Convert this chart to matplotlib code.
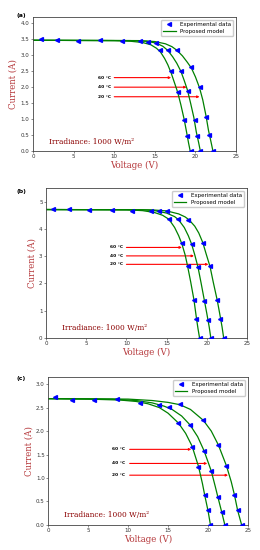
import matplotlib
matplotlib.use("Agg")
import matplotlib.pyplot as plt

# ---------------- Panel (a) ----------------
a_exp_v = [0.95, 2.9, 5.5, 8.2, 11.0, 13.2, 14.1, 15.2, 15.6, 16.6, 17.7, 17.0, 18.2, 19.5,
           17.9, 19.1, 20.5, 18.6, 19.9, 21.3, 19.0, 20.2, 21.7, 19.4, 20.6, 22.1]
a_exp_i = [3.51, 3.48, 3.46, 3.48, 3.45, 3.45, 3.43, 3.39, 3.15, 3.15, 3.16, 2.50, 2.52, 2.62,
           1.86, 1.89, 2.00, 0.98, 0.98, 1.08, 0.47, 0.47, 0.51, 0.01, 0.0, 0.0]
a60_v = [0, 10, 12, 13.5, 14.5, 15.2, 15.7, 16.2, 16.6, 17.0, 17.4, 17.8, 18.2, 18.6, 18.9, 19.15, 19.35]
a60_i = [3.47, 3.46, 3.44, 3.40, 3.33, 3.22, 3.10, 2.90, 2.70, 2.45, 2.15, 1.85, 1.45, 1.0, 0.6, 0.25, 0]
a40_v = [0, 12, 14, 15.2, 16.0, 16.6, 17.2, 17.7, 18.2, 18.6, 19.0, 19.4, 19.8, 20.1, 20.4, 20.6]
a40_i = [3.47, 3.46, 3.44, 3.38, 3.28, 3.15, 2.95, 2.75, 2.50, 2.22, 1.92, 1.50, 1.05, 0.6, 0.25, 0]
a20_v = [0, 13, 15, 16.3, 17.1, 17.7, 18.4, 19.0, 19.5, 20.0, 20.5, 20.9, 21.3, 21.6, 21.9, 22.15]
a20_i = [3.47, 3.46, 3.43, 3.36, 3.27, 3.16, 2.98, 2.78, 2.60, 2.32, 1.98, 1.60, 1.10, 0.65, 0.30, 0]
a_arrow_y = [2.3, 2.0, 1.7]
a_arrow_x = [17.0, 18.9, 20.5]

# ---------------- Panel (b) ----------------
b_exp_v = [0.83, 2.8, 5.4, 8.2, 10.7, 13.1, 14.0, 15.1, 15.3, 16.4, 17.7, 16.9, 18.1, 19.5,
           17.6, 18.9, 20.4, 18.4, 19.7, 21.3, 18.7, 20.2, 21.7, 19.1, 20.5, 22.1]
b_exp_i = [4.72, 4.72, 4.70, 4.71, 4.67, 4.67, 4.67, 4.67, 4.35, 4.35, 4.34, 3.50, 3.46, 3.50,
           2.65, 2.60, 2.65, 1.40, 1.37, 1.40, 0.68, 0.66, 0.68, 0.0, 0.0, 0.0]
b60_v = [0, 10, 12, 13.5, 14.5, 15.3, 16.0, 16.5, 16.9, 17.3, 17.6, 18.0, 18.4, 18.7, 18.9, 19.1]
b60_i = [4.71, 4.70, 4.67, 4.60, 4.50, 4.35, 4.05, 3.75, 3.45, 3.05, 2.65, 2.05, 1.40, 0.75, 0.35, 0]
b40_v = [0, 12, 13.5, 15.0, 16.0, 16.5, 17.2, 17.7, 18.1, 18.5, 18.9, 19.3, 19.7, 20.0, 20.3, 20.5]
b40_i = [4.71, 4.70, 4.67, 4.58, 4.45, 4.33, 4.05, 3.75, 3.45, 3.05, 2.60, 2.00, 1.37, 0.90, 0.40, 0]
b20_v = [0, 13, 15, 16.5, 17.3, 17.8, 18.5, 19.0, 19.5, 19.9, 20.4, 20.8, 21.3, 21.6, 21.9, 22.1]
b20_i = [4.71, 4.70, 4.66, 4.55, 4.44, 4.33, 4.10, 3.85, 3.50, 3.10, 2.62, 2.05, 1.38, 0.90, 0.40, 0]
b_arrow_y = [3.32, 3.01, 2.70]
b_arrow_x = [16.9, 18.4, 20.2]

# ---------------- Panel (c) ----------------
c_exp_v = [0.92, 3.0, 5.8, 8.6, 11.5, 13.9, 15.1, 16.5, 16.3, 17.75, 19.4, 18.0, 19.5, 21.3,
           18.8, 20.4, 22.3, 19.6, 21.25, 23.3, 20.0, 21.7, 23.7, 20.3, 22.1, 24.2]
c_exp_i = [2.72, 2.67, 2.67, 2.69, 2.60, 2.55, 2.51, 2.57, 2.18, 2.13, 2.23, 1.67, 1.58, 1.70,
           1.23, 1.15, 1.26, 0.64, 0.59, 0.64, 0.31, 0.28, 0.31, 0.01, 0.0, 0.0]
c60_v = [0, 5, 9, 11, 12.5, 13.9, 15.0, 16.3, 17.2, 18.0, 18.8, 19.3, 19.6, 20.0, 20.3]
c60_i = [2.69, 2.68, 2.66, 2.63, 2.58, 2.50, 2.38, 2.17, 1.95, 1.68, 1.25, 0.88, 0.62, 0.30, 0]
c40_v = [0, 8, 11, 13, 14.5, 15.5, 16.7, 17.75, 18.7, 19.5, 20.4, 20.9, 21.25, 21.7, 22.1]
c40_i = [2.69, 2.68, 2.65, 2.60, 2.53, 2.46, 2.32, 2.13, 1.88, 1.58, 1.15, 0.82, 0.58, 0.28, 0]
c20_v = [0, 10, 13, 15, 16.5, 17.8, 19.4, 20.4, 21.3, 22.3, 22.9, 23.3, 23.7, 24.2]
c20_i = [2.69, 2.68, 2.65, 2.61, 2.56, 2.46, 2.23, 2.00, 1.70, 1.26, 0.92, 0.64, 0.31, 0]
c_arrow_y = [1.61, 1.31, 1.06]
c_arrow_x = [17.9, 19.9, 22.5]

temp_labels = ["60 °C", "40 °C", "20 °C"]
x_ticks = [0, 5, 10, 15, 20, 25]

fig = plt.figure(figsize=(2.6, 5.5), dpi=100)

panels = [
    dict(rect=[0.127, 0.7255, 0.781, 0.2436], lab="(a)", labpos=(0.062, 0.972),
         ev=a_exp_v, ei=a_exp_i, curves=[(a60_v, a60_i), (a40_v, a40_i), (a20_v, a20_i)],
         ay=a_arrow_y, ax=a_arrow_x, ylim=4.2, yt=[0, 0.5, 1.0, 1.5, 2.0, 2.5, 3.0, 3.5, 4.0],
         yfmt="%.1f", tx=8.0, sx=10.0),
    dict(rect=[0.177, 0.3855, 0.773, 0.2727], lab="(b)", labpos=(0.065, 0.652),
         ev=b_exp_v, ei=b_exp_i, curves=[(b60_v, b60_i), (b40_v, b40_i), (b20_v, b20_i)],
         ay=b_arrow_y, ax=b_arrow_x, ylim=5.5, yt=[0, 1, 2, 3, 4, 5],
         yfmt="%d", tx=8.0, sx=10.0),
    dict(rect=[0.185, 0.0455, 0.769, 0.269], lab="(c)", labpos=(0.065, 0.311),
         ev=c_exp_v, ei=c_exp_i, curves=[(c60_v, c60_i), (c40_v, c40_i), (c20_v, c20_i)],
         ay=c_arrow_y, ax=c_arrow_x, ylim=3.15, yt=[0, 0.5, 1.0, 1.5, 2.0, 2.5, 3.0],
         yfmt="%.1f", tx=8.0, sx=10.2),
]

label_color = "#b5373a"
for p in panels:
    ax = fig.add_axes(p["rect"])
    for k, (cv, ci) in enumerate(p["curves"]):
        ax.plot(cv, ci, color="green", lw=0.9, zorder=2,
                label="Proposed model" if k == 0 else None)
    ax.plot(p["ev"], p["ei"], linestyle="none", marker="<", color="blue", markersize=2.8,
            zorder=3, label="Experimental data")
    for t, y, xe in zip(temp_labels, p["ay"], p["ax"]):
        ax.annotate("", xy=(xe, y), xytext=(p["sx"], y),
                    arrowprops=dict(arrowstyle="-|>", color="red", lw=0.8,
                                    mutation_scale=3, shrinkA=0, shrinkB=0), zorder=1)
        ax.text(p["tx"], y, t, fontsize=3.2, fontweight="bold", ha="left", va="center")
    ax.set_xlim(0, 25)
    ax.set_ylim(0, p["ylim"])
    ax.set_xticks(x_ticks)
    ax.set_yticks(p["yt"])
    ax.set_yticklabels([p["yfmt"] % v for v in p["yt"]])
    ax.tick_params(labelsize=4, length=1.5, width=0.4, pad=1, colors="#333333")
    for s in ax.spines.values():
        s.set_linewidth(0.6)
        s.set_color("#444444")
    ax.set_xlabel("Voltage (V)", family="DejaVu Serif", fontsize=6.2, color=label_color, labelpad=1)
    ax.set_ylabel("Current (A)", family="DejaVu Serif", fontsize=6.2, color=label_color, labelpad=2)
    ax.text(2.0, 0.04 * p["ylim"], "Irradiance: 1000 W/m²", family="DejaVu Serif",
            fontsize=5.3, color="darkred", va="bottom")
    h, l = ax.get_legend_handles_labels()
    ax.legend(h[::-1], l[::-1], loc="upper right", fontsize=4, frameon=True,
              handlelength=2.2, borderpad=0.4, labelspacing=0.3, framealpha=1,
              edgecolor="#cccccc")
    fig.text(p["labpos"][0], p["labpos"][1], p["lab"], fontsize=4.5, fontweight="bold",
             ha="left", va="center")

fig.savefig("out.png", dpi=100)
